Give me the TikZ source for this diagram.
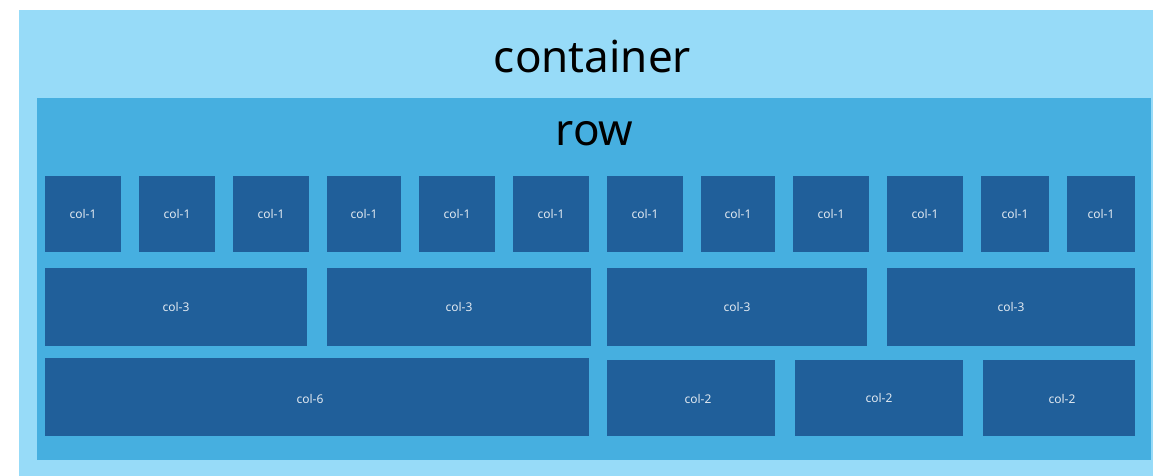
\documentclass[tikz,border=0pt]{standalone}
\usepackage{fontspec}
\setmainfont{Noto Sans}
\definecolor{contc}{HTML}{97DBF8}
\definecolor{rowc}{HTML}{46AFE0}
\definecolor{colc}{HTML}{205F9A}
\definecolor{labc}{HTML}{E0E8F0}
\tikzset{
  colbox/.style={fill=colc, draw=none, inner sep=0pt, text=labc, font=\fontsize{12}{12}\selectfont},
  bigtxt/.style={inner sep=0pt, anchor=base, text=black, font=\fontsize{44}{44}\selectfont},
}
\newcommand{\cbox}[6]{% name, x1, y1, x2, y2, label
  \path[fill=colc] (#2,#3) rectangle (#4,#5);
  \node[colbox, minimum width={#4-#2}, minimum height={#5-#3}] (#1) at ({(#2+#4)/2},{(#3+#5)/2}) {#6};
}
\begin{document}
\begin{tikzpicture}[x=1pt,y=-1pt]
\useasboundingbox (0,0) rectangle (1153,476);
\fill[white] (0,0) rectangle (1153,476);
\node[fill=contc, inner sep=0pt, minimum width=1134pt, minimum height=466pt, anchor=north west] (container) at (19,10) {};
\node[fill=rowc, inner sep=0pt, minimum width=1114pt, minimum height=362pt, anchor=north west] (row) at (37,98) {};
\node[bigtxt] (containerlabel) at (592.5,73) {container};
\node[bigtxt] (rowlabel) at (594.5,145) {row};
% row 1
\node[colbox, minimum width=76pt, minimum height=76pt] (a1) at (83,214) {col-1};
\node[colbox, minimum width=76pt, minimum height=76pt] (a2) at (177,214) {col-1};
\node[colbox, minimum width=76pt, minimum height=76pt] (a3) at (271,214) {col-1};
\node[colbox, minimum width=74pt, minimum height=76pt] (a4) at (364,214) {col-1};
\node[colbox, minimum width=76pt, minimum height=76pt] (a5) at (457,214) {col-1};
\node[colbox, minimum width=76pt, minimum height=76pt] (a6) at (551,214) {col-1};
\node[colbox, minimum width=76pt, minimum height=76pt] (a7) at (645,214) {col-1};
\node[colbox, minimum width=74pt, minimum height=76pt] (a8) at (738,214) {col-1};
\node[colbox, minimum width=76pt, minimum height=76pt] (a9) at (831,214) {col-1};
\node[colbox, minimum width=76pt, minimum height=76pt] (a10) at (925,214) {col-1};
\node[colbox, minimum width=68pt, minimum height=76pt] (a11) at (1015,214) {col-1};
\node[colbox, minimum width=68pt, minimum height=76pt] (a12) at (1101,214) {col-1};
% row 2
\node[colbox, minimum width=262pt, minimum height=78pt] (b1) at (176,307) {col-3};
\node[colbox, minimum width=264pt, minimum height=78pt] (b2) at (459,307) {col-3};
\node[colbox, minimum width=260pt, minimum height=78pt] (b3) at (737,307) {col-3};
\node[colbox, minimum width=248pt, minimum height=78pt] (b4) at (1011,307) {col-3};
% row 3
\node[colbox, minimum width=544pt, minimum height=78pt] (c1) at (317,397) {};
\node[text=labc, inner sep=0pt, font=\fontsize{12}{12}\selectfont] (c1label) at (310,399) {col-6};
\node[colbox, minimum width=168pt, minimum height=76pt] (c2) at (691,398) {};
\node[text=labc, inner sep=0pt, font=\fontsize{12}{12}\selectfont] (c2label) at (698,399) {col-2};
\node[colbox, minimum width=168pt, minimum height=76pt] (c3) at (879,398) {col-2};
\node[colbox, minimum width=152pt, minimum height=76pt] (c4) at (1059,398) {};
\node[text=labc, inner sep=0pt, font=\fontsize{12}{12}\selectfont] (c4label) at (1062,399) {col-2};
\end{tikzpicture}
\end{document}
